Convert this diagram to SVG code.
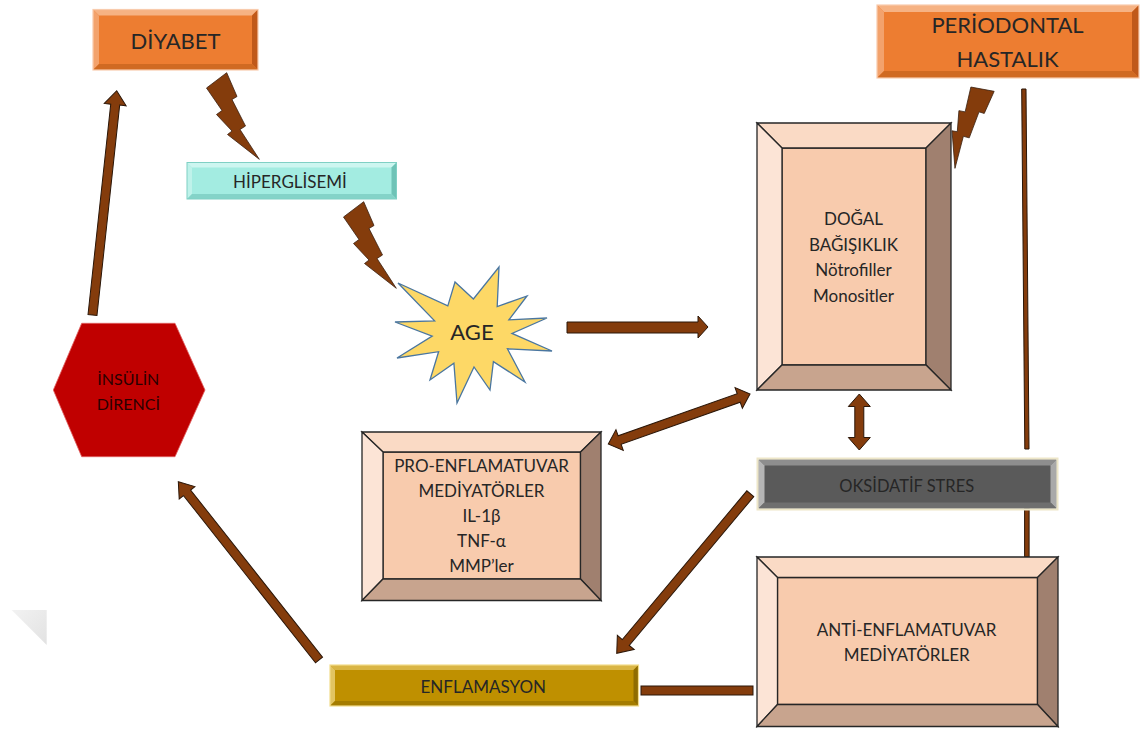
<svg xmlns="http://www.w3.org/2000/svg" width="1140" height="729" viewBox="0 0 1140 729">
<style>
text{font-family:Lato,"Liberation Sans",sans-serif;fill:#262626;text-anchor:middle}
.arr{fill:#843C0C;stroke:#2a1608;stroke-width:1;stroke-linejoin:miter}
.bolt{fill:#843C0C;stroke:#3a2010;stroke-width:0.8}
.big .tp{fill:#FADAC5}.big .lf{fill:#FCE4D6}.big .rt{fill:#A0806F}.big .bt{fill:#C8A48E}.big .fc{fill:#F8CBAD}
.big polygon,.big rect{stroke:#262626;stroke-width:1.3}
.org .tp{fill:#F6B283}.org .lf{fill:#F3A26C}.org .rt{fill:#C0591A}.org .bt{fill:#D06A22}.org .fc{fill:#ED7D31}
.org .ol{fill:none;stroke:#F8CBAD;stroke-width:1.2}
.cyn .tp{fill:#CDF6F0}.cyn .lf{fill:#BFF2EA}.cyn .rt{fill:#6FC3B7}.cyn .bt{fill:#84D3C8}.cyn .fc{fill:#A3ECE1}
.cyn .ol{fill:none;stroke:#7FD0C4;stroke-width:1}
.gry .tp{fill:#8E8E8E}.gry .lf{fill:#B5B5B5}.gry .rt{fill:#A9A9A9}.gry .bt{fill:#6F6F6F}.gry .fc{fill:#5A5A5A}
.gry .ol{fill:none;stroke:#EDE6C8;stroke-width:2}
.gld .tp{fill:#D9B545}.gld .lf{fill:#E2C462}.gld .rt{fill:#8F6C00}.gld .bt{fill:#A47C00}.gld .fc{fill:#BF9000}
.gld .ol{fill:none;stroke:#F2DC8C;stroke-width:1.2}
</style>
<defs>
<polygon id="bolt" points="206.5,88 226.7,72.7 237,96.5 232,99.5 245.5,126 240,129.5 259.3,159.3 227.5,134.5 232,131 216.5,114.5 222,110.5"/>
<linearGradient id="sh" x1="0" y1="0" x2="1" y2="1">
<stop offset="0" stop-color="#F2F2F2"/><stop offset="1" stop-color="#E2E2E2"/>
</linearGradient>
</defs>
<rect width="1140" height="729" fill="#FFFFFF"/>
<polygon points="11.7,610 46.7,610 46.7,645" fill="url(#sh)"/>

<g id="connectors">
<polygon class="arr" points="567,322 698,322 698,316 708,327 698,338 698,333 567,333"/>
<polygon class="arr" transform="translate(92.5,315) rotate(-83.84)" points="0,-4.5 211.6,-4.5 211.6,-11 225.6,0 211.6,11 211.6,4.5 0,4.5"/>
<polygon class="arr" transform="translate(319,660) rotate(-128.28)" points="0,-4.5 213,-4.5 213,-10 227.1,0 213,10 213,4.5 0,4.5"/>
<polygon class="arr" transform="translate(750.3,493.7) rotate(129.93)" points="0,-4.5 194,-4.5 194,-11 208.1,0 194,11 194,4.5 0,4.5"/>
<polygon class="arr" transform="translate(608.3,444) rotate(-19.44)" points="0,0 12,-11 12,-4.5 138.3,-4.5 138.3,-11 150.3,0 138.3,11 138.3,4.5 12,4.5 12,11"/>
<polygon class="arr" points="859.3,394 870.3,406.5 863.8,406.5 863.8,437.5 870.3,437.5 859.3,450 848.3,437.5 854.8,437.5 854.8,406.5 848.3,406.5"/>
<polygon class="arr" points="1021.7,89 1026,89 1029,449 1024.8,449"/>
<rect class="arr" x="1024.6" y="509" width="4.5" height="48"/>
<rect class="arr" x="641" y="686" width="112" height="9"/>
<use href="#bolt" class="bolt"/>
<use href="#bolt" class="bolt" transform="translate(137,129)"/>
<use href="#bolt" class="bolt" transform="translate(982.8,89.7) rotate(47.6) scale(0.934) translate(-217.2,-80.5)"/>
</g>

<g id="diyabet" class="org">
<rect class="fc" x="93" y="9.5" width="165" height="60.5"/>
<polygon class="tp" points="93,9.5 258,9.5 252,15.5 99,15.5"/>
<polygon class="lf" points="93,9.5 99,15.5 99,64 93,70"/>
<polygon class="rt" points="258,9.5 258,70 252,64 252,15.5"/>
<polygon class="bt" points="93,70 258,70 252,64 99,64"/>
<rect class="ol" x="93" y="9.5" width="165" height="60.5"/>
<text x="175.5" y="49" font-size="22">DİYABET</text>
</g>

<g id="periodontal" class="org">
<rect class="fc" x="877" y="5" width="262" height="73"/>
<polygon class="tp" points="877,5 1139,5 1132,12 884,12"/>
<polygon class="lf" points="877,5 884,12 884,71 877,78"/>
<polygon class="rt" points="1139,5 1139,78 1132,71 1132,12"/>
<polygon class="bt" points="877,78 1139,78 1132,71 884,71"/>
<rect class="ol" x="877" y="5" width="262" height="73"/>
<text x="1007.5" y="33" font-size="22">PERİODONTAL</text>
<text x="1007.5" y="66.5" font-size="22">HASTALIK</text>
</g>

<g id="hiperglisemi" class="cyn">
<rect class="fc" x="187" y="162.5" width="209.5" height="36.5"/>
<polygon class="tp" points="187,162.5 396.5,162.5 391.5,167.5 192,167.5"/>
<polygon class="lf" points="187,162.5 192,167.5 192,194 187,199"/>
<polygon class="rt" points="396.5,162.5 396.5,199 391.5,194 391.5,167.5"/>
<polygon class="bt" points="187,199 396.5,199 391.5,194 192,194"/>
<rect class="ol" x="187" y="162.5" width="209.5" height="36.5"/>
<text x="290" y="187.5" font-size="17">HİPERGLİSEMİ</text>
</g>

<g id="age">
<polygon points="499,267 497.2,306.6 527,296 508.9,319.9 547,318 512,333.4 552,351 507.4,348.8 525,382 493.4,361.7 490,390 474,367 457,403 453.9,363.3 430,380 438.6,351.7 397,358 432.2,336.1 395,322 434.6,320.8 398,283 447.8,305.9 455,282 473.4,299" fill="#FDD866" stroke="#4A76A0" stroke-width="1.3" stroke-linejoin="miter"/>
<text x="472" y="340" font-size="22">AGE</text>
</g>

<g id="dogal" class="big">
<rect class="fc" x="782" y="148" width="144" height="217"/>
<polygon class="tp" points="757,123 951,123 926,148 782,148"/>
<polygon class="lf" points="757,123 782,148 782,365 757,390"/>
<polygon class="rt" points="951,123 951,390 926,365 926,148"/>
<polygon class="bt" points="757,390 951,390 926,365 782,365"/>
<text x="853.5" y="225" font-size="17">DOĞAL</text>
<text x="853.5" y="250.5" font-size="17">BAĞIŞIKLIK</text>
<text x="853.5" y="276" font-size="17">Nötrofiller</text>
<text x="853.5" y="301.5" font-size="17">Monositler</text>
</g>

<g id="pro" class="big">
<rect class="fc" x="383" y="452" width="197.5" height="127"/>
<polygon class="tp" points="362,432 601,432 580.5,452 383,452"/>
<polygon class="lf" points="362,432 383,452 383,579 362,600.5"/>
<polygon class="rt" points="601,432 601,600.5 580.5,579 580.5,452"/>
<polygon class="bt" points="362,600.5 601,600.5 580.5,579 383,579"/>
<text x="481.5" y="471.7" font-size="17">PRO-ENFLAMATUVAR</text>
<text x="481.5" y="496.7" font-size="17">MEDİYATÖRLER</text>
<text x="481.5" y="521.7" font-size="17">IL-1β</text>
<text x="481.5" y="546.7" font-size="17">TNF-α</text>
<text x="481.5" y="571.7" font-size="17">MMP’ler</text>
</g>

<g id="oksidatif" class="gry">
<rect class="fc" x="758.5" y="459.5" width="298" height="49"/>
<polygon class="tp" points="758.5,459.5 1056.5,459.5 1050.5,465.5 764.5,465.5"/>
<polygon class="lf" points="758.5,459.5 764.5,465.5 764.5,502.5 758.5,508.5"/>
<polygon class="rt" points="1056.5,459.5 1056.5,508.5 1050.5,502.5 1050.5,465.5"/>
<polygon class="bt" points="758.5,508.5 1056.5,508.5 1050.5,502.5 764.5,502.5"/>
<rect class="ol" x="757.5" y="458.5" width="300" height="51"/>
<text x="906.7" y="491.5" font-size="16.5">OKSİDATİF STRES</text>
</g>

<g id="anti" class="big">
<rect class="fc" x="777.5" y="577.5" width="260" height="127"/>
<polygon class="tp" points="757,557 1058,557 1037.5,577.5 777.5,577.5"/>
<polygon class="lf" points="757,557 777.5,577.5 777.5,704.5 757,726.5"/>
<polygon class="rt" points="1058,557 1058,726.5 1037.5,704.5 1037.5,577.5"/>
<polygon class="bt" points="757,726.5 1058,726.5 1037.5,704.5 777.5,704.5"/>
<text x="906.7" y="636" font-size="17">ANTİ-ENFLAMATUVAR</text>
<text x="906.7" y="660.7" font-size="17">MEDİYATÖRLER</text>
</g>

<g id="enflamasyon" class="gld">
<rect class="fc" x="330" y="665" width="308.5" height="41"/>
<polygon class="tp" points="330,665 638.5,665 633.5,670 335,670"/>
<polygon class="lf" points="330,665 335,670 335,701 330,706"/>
<polygon class="rt" points="638.5,665 638.5,706 633.5,701 633.5,670"/>
<polygon class="bt" points="330,706 638.5,706 633.5,701 335,701"/>
<rect class="ol" x="330" y="665" width="308.5" height="41"/>
<text x="483.3" y="693" font-size="17">ENFLAMASYON</text>
</g>

<g id="insulin">
<polygon points="53.3,390 81.7,323.3 175,323.3 205,390 175,456.7 81.7,456.7" fill="#C00000" stroke="#E06060" stroke-width="0.8"/>
<text x="128.3" y="385" font-size="16" style="fill:#2a0000">İNSÜLİN</text>
<text x="128.3" y="410" font-size="16" style="fill:#2a0000">DİRENCİ</text>
</g>
</svg>
